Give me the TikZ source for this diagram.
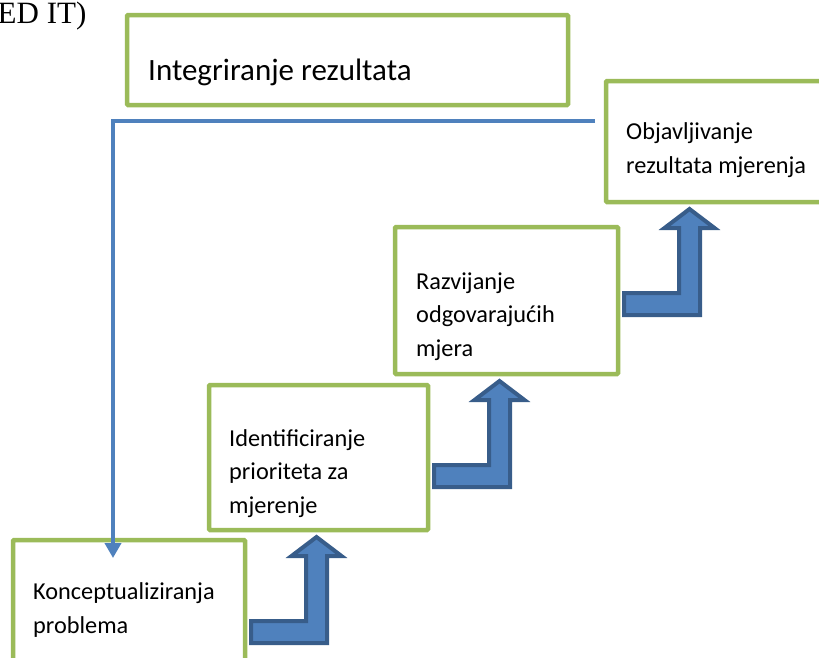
\documentclass[tikz,border=0pt]{standalone}
\usepackage{fontspec}
\setmainfont{Carlito}
\newfontfamily\timesfont{Liberation Serif}
\usepackage{tikz}
\usetikzlibrary{arrows.meta, positioning, calc}

\definecolor{stageGreen}{HTML}{9BBB59}
\definecolor{loopBlue}{HTML}{4F81BD}
\definecolor{arrowEdge}{HTML}{385D8A}

\begin{document}
\begin{tikzpicture}[x=1pt,y=-1pt,
        stage/.style={draw=stageGreen, line width=4.5pt, fill=white, rounded corners=1pt,
          anchor=north west, inner sep=0pt, outer sep=0pt},
        stagetext/.style={anchor=base west, align=left, inner sep=0pt,
          font=\fontsize{24.3}{33.5}\selectfont},
        feedback/.style={draw=loopBlue, line width=4pt, -{Triangle[width=16pt,length=15pt]}},
        bentarrow/.style={draw=arrowEdge, fill=loopBlue, line width=4pt, line join=miter},
        pics/bentup/.style={code={
          \draw[bentarrow] (6,91) -- (61,91) -- (61,26) -- (46.5,26) -- (71.5,7)
            -- (96.5,26) -- (82,26) -- (82,113) -- (6,113) -- cycle;}}]

      \clip (0,0) rectangle (819,657);

      % boxes of the steps
      \node[stage, minimum width=441, minimum height=90]  (integ) at (127,15)  {};
      \node[stage, minimum width=224, minimum height=121] (objav) at (606,81)  {};
      \node[stage, minimum width=223, minimum height=147] (razv)  at (395,227) {};
      \node[stage, minimum width=219, minimum height=145] (ident) at (209,385) {};
      \node[stage, minimum width=232, minimum height=130] (konc)  at (13,540)  {};

      % texts, placed at the baseline of their last line
      \node[stagetext, font=\fontsize{31}{36}\selectfont] (integT) at ($(integ.north west)+(21,65)$) {Integriranje rezultata};
      \node[stagetext] (objavT) at ($(objav.north west)+(20,92)$)  {Objavljivanje\\rezultata mjerenja};
      \node[stagetext] (razvT)  at ($(razv.north west)+(21,129)$)  {Razvijanje\\odgovarajućih\\mjera};
      \node[stagetext] (identT) at ($(ident.north west)+(20,128)$) {Identificiranje\\prioriteta za\\mjerenje};
      \node[stagetext] (koncT)  at ($(konc.north west)+(20,93)$)   {Konceptualiziranja\\problema};

      \node[anchor=base west, inner sep=0pt, font=\timesfont\fontsize{31}{36}\selectfont] (head) at (-2.5,23) {ED IT)};

      % feedback line
      \coordinate (fbstart) at ($(objav.north west)+(-11,40)$);
      \coordinate (fbend)   at ($(konc.north west)+(100,18)$);
      \draw[feedback] (fbstart) -| (fbend);

      % bent arrows between the steps
      \pic at (konc.east |- ident.south) {bentup};
      \pic at (ident.east |- razv.south) {bentup};
      \pic at (razv.east |- objav.south) {bentup};
    \end{tikzpicture}
\end{document}
